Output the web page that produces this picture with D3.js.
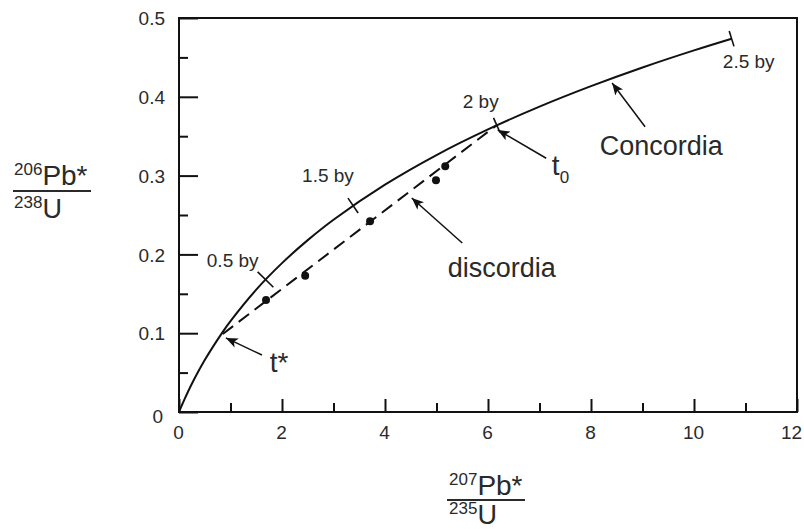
<!DOCTYPE html>
<html>
<head>
<meta charset="utf-8">
<script src="https://cdn.jsdelivr.net/npm/d3@7"></script>
<style>
  html, body { margin: 0; padding: 0; background: #fff; }
  svg { display: block; font-family: "Liberation Sans", Arial, sans-serif; }
</style>
</head>
<body>
<svg id="chart" width="804" height="529"></svg>
<script>
// ---- Data ----
const xMajorTicks = [0, 2, 4, 6, 8, 10, 12];
const xMinorTicks = [1, 3, 5, 7, 9, 11];
const yMajorTicks = [0, 0.1, 0.2, 0.3, 0.4, 0.5];
const yMinorTicks = [0.05, 0.15, 0.25, 0.35, 0.45];
const yTickLabels = ["0", "0.1", "0.2", "0.3", "0.4", "0.5"];

// Concordia curve (207Pb*/235U, 206Pb*/238U), estimated along the drawn curve
const concordiaX = [0, 0.05, 0.1, 0.25, 0.5, 0.85, 1, 1.5, 2, 2.5, 3, 4, 5, 6, 7, 8, 9, 10, 10.73];
const concordiaY = [0, 0.0077, 0.0151, 0.0358, 0.0659, 0.1017, 0.1154, 0.1553, 0.1889, 0.2181, 0.2440, 0.2885, 0.3261, 0.3586, 0.3875, 0.4135, 0.4372, 0.4589, 0.4737];

// Age tick marks on the concordia
const ageLabels = ["0.5 by", "1.5 by", "2 by", "2.5 by"];
const ageX = [1.68, 3.38, 6.17, 10.73];
const ageY = [0.168, 0.262, 0.364, 0.4737];

// Measured samples
const sampleX = [1.69, 2.45, 3.71, 4.99, 5.17];
const sampleY = [0.142, 0.173, 0.242, 0.294, 0.312];

// Discordia end points: t* (lower intercept) and t0 (upper intercept)
const discordiaX = [0.85, 6.17];
const discordiaY = [0.099, 0.364];

// ---- Layout ----
const svg = d3.select("#chart");
const mLeft = 179, mRight = 797, mTop = 18, mBottom = 412;
const x = d3.scaleLinear().domain([0, 12]).range([mLeft, mRight]);
const y = d3.scaleLinear().domain([0, 0.5]).range([mBottom, mTop]);
const ink = "#111";
const textInk = "#2a2a2a";

// arrow marker
svg.append("defs").append("marker")
  .attr("id", "arrow")
  .attr("viewBox", "0 0 12 10")
  .attr("refX", 12).attr("refY", 5)
  .attr("markerWidth", 12).attr("markerHeight", 10)
  .attr("markerUnits", "userSpaceOnUse")
  .attr("orient", "auto")
  .append("path").attr("d", "M0,0 L12,5 L0,10 L3,5 Z").attr("fill", ink);

// ---- Axes (ticks pointing inward) ----
const xAxisMajor = d3.axisBottom(x).tickValues(xMajorTicks).tickSizeInner(-13).tickSizeOuter(0).tickPadding(10)
  .tickFormat(d3.format("d"));
const gx = svg.append("g").attr("transform", `translate(0,${mBottom})`).call(xAxisMajor);
const gxm = svg.append("g").attr("transform", `translate(0,${mBottom})`)
  .call(d3.axisBottom(x).tickValues(xMinorTicks).tickSizeInner(-9).tickSizeOuter(0).tickFormat(""));

const yAxisMajor = d3.axisLeft(y).tickValues(yMajorTicks).tickSizeInner(-19).tickSizeOuter(0).tickPadding(14)
  .tickFormat((d, i) => yTickLabels[i]);
const gy = svg.append("g").attr("transform", `translate(${mLeft},0)`).call(yAxisMajor);
const gym = svg.append("g").attr("transform", `translate(${mLeft},0)`)
  .call(d3.axisLeft(y).tickValues(yMinorTicks).tickSizeInner(-9).tickSizeOuter(0).tickFormat(""));

[gx, gxm, gy, gym].forEach(g => {
  g.select(".domain").remove();
  g.selectAll(".tick line").attr("stroke", ink).attr("stroke-width", 2);
  g.selectAll(".tick text").attr("fill", textInk).style("font-size", "19px")
    .style("font-family", "'Liberation Sans', Arial, sans-serif");
});
gx.selectAll(".tick text").attr("dy", "0.9em")
  .attr("x", d => d === 12 ? -6 : -1);
gy.selectAll(".tick text").attr("dy", d => d === 0 ? "0.55em" : "0.35em")
  .attr("x", d => d === 0 ? -16 : -14);

// frame
svg.append("rect")
  .attr("x", mLeft).attr("y", mTop)
  .attr("width", mRight - mLeft).attr("height", mBottom - mTop)
  .attr("fill", "none").attr("stroke", ink).attr("stroke-width", 2);

// ---- Concordia ----
const concordia = concordiaX.map((v, i) => [v, concordiaY[i]]);
svg.append("path")
  .datum(concordia)
  .attr("fill", "none").attr("stroke", ink).attr("stroke-width", 2)
  .attr("d", d3.line().x(d => x(d[0])).y(d => y(d[1])).curve(d3.curveCatmullRom.alpha(0.5)));

// age ticks perpendicular to the curve
const tickLen = [22, 18, 16, 16];
ageX.forEach((ax, i) => {
  let j = concordiaX.findIndex(v => v >= ax);
  if (j <= 0) j = 1;
  const x0 = x(concordiaX[j - 1]), y0 = y(concordiaY[j - 1]);
  const x1 = x(concordiaX[j]), y1 = y(concordiaY[j]);
  const len = Math.hypot(x1 - x0, y1 - y0);
  const nx = -(y1 - y0) / len, ny = (x1 - x0) / len;
  const cx = x(ax), cy = y(ageY[i]);
  const h = tickLen[i] / 2;
  svg.append("line")
    .attr("x1", cx - nx * h).attr("y1", cy - ny * h)
    .attr("x2", cx + nx * h).attr("y2", cy + ny * h)
    .attr("stroke", ink).attr("stroke-width", 1.6);
});

// ---- Discordia ----
svg.append("line")
  .attr("x1", x(discordiaX[0])).attr("y1", y(discordiaY[0]))
  .attr("x2", x(discordiaX[1])).attr("y2", y(discordiaY[1]))
  .attr("stroke", ink).attr("stroke-width", 2)
  .attr("stroke-dasharray", "13,7");

// samples
svg.selectAll("circle.sample")
  .data(sampleX.map((v, i) => [v, sampleY[i]]))
  .join("circle").attr("class", "sample")
  .attr("cx", d => x(d[0])).attr("cy", d => y(d[1]))
  .attr("r", 4).attr("fill", ink);

// ---- Annotations (positions in data units) ----
const ageLabelPos = [[0.54, 0.184], [2.39, 0.292], [5.51, 0.386], [10.56, 0.4365]];
ageLabels.forEach((t, i) => {
  svg.append("text")
    .attr("x", x(ageLabelPos[i][0])).attr("y", y(ageLabelPos[i][1]))
    .attr("fill", textInk).style("font-size", "19px").text(t);
});

const arrows = [
  [[9.05, 0.362], [8.41, 0.4175]],   // Concordia
  [[5.50, 0.2145], [4.52, 0.2716]],  // discordia
  [[7.13, 0.322], [6.19, 0.358]],    // t0
  [[1.61, 0.0723], [0.91, 0.094]]    // t*
];
arrows.forEach(a => {
  svg.append("line")
    .attr("x1", x(a[0][0])).attr("y1", y(a[0][1]))
    .attr("x2", x(a[1][0])).attr("y2", y(a[1][1]))
    .attr("stroke", ink).attr("stroke-width", 1.5)
    .attr("marker-end", "url(#arrow)");
});

svg.append("text").attr("x", x(8.17)).attr("y", y(0.326))
  .attr("fill", textInk).style("font-size", "27px").text("Concordia");
svg.append("text").attr("x", x(5.22)).attr("y", y(0.171))
  .attr("fill", textInk).style("font-size", "27px").text("discordia");
const t0 = svg.append("text").attr("x", x(7.24)).attr("y", y(0.301))
  .attr("fill", textInk).style("font-size", "28px");
t0.append("tspan").text("t");
t0.append("tspan").attr("dy", 8).style("font-size", "17px").text("0");
svg.append("text").attr("x", x(1.76)).attr("y", y(0.051))
  .attr("fill", textInk).style("font-size", "28px").text("t*");

// ---- Axis titles (isotope ratio fractions) ----
function fraction(xl, baseTop, lineY, baseBot, lineX0, lineX1, supTop, sym, supBot) {
  const tTop = svg.append("text").attr("x", xl).attr("y", baseTop).attr("fill", textInk).style("font-size", "28px");
  tTop.append("tspan").attr("dy", -10).style("font-size", "17px").text(supTop);
  tTop.append("tspan").attr("dy", 10).text(sym);
  svg.append("line").attr("x1", lineX0).attr("x2", lineX1).attr("y1", lineY).attr("y2", lineY)
    .attr("stroke", textInk).attr("stroke-width", 2);
  const tBot = svg.append("text").attr("x", xl).attr("y", baseBot).attr("fill", textInk).style("font-size", "27px");
  tBot.append("tspan").attr("dy", -10).style("font-size", "17px").text(supBot);
  tBot.append("tspan").attr("dy", 10).text("U");
}
fraction(14, 185, 191, 218, 13, 91, "206", "Pb*", "238");
fraction(449, 495, 500, 524, 447, 525, "207", "Pb*", "235");
</script>
</body>
</html>
